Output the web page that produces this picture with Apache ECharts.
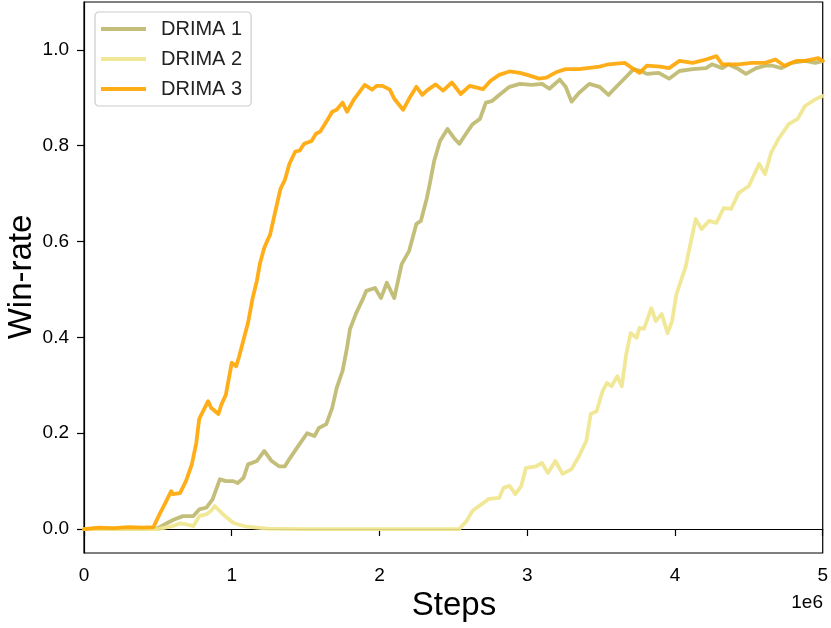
<!DOCTYPE html>
<html>
<head>
<meta charset="utf-8">
<script src="https://cdn.jsdelivr.net/npm/echarts@6/dist/echarts.min.js"></script>
<style>
html,body{margin:0;padding:0;background:#fff;}
#chart{width:831px;height:628px;}
</style>
</head>
<body>
<div id="chart"></div>
<script>
// x values in units of 1e6 steps, y = win-rate
const seriesNames = ['DRIMA 1', 'DRIMA 2', 'DRIMA 3'];
const xTicks = [0, 1, 2, 3, 4, 5];
const yTicks = [0, 0.2, 0.4, 0.6, 0.8, 1.0];

const drima1 = [[0,0],[0.3,0.001],[0.5,0.002],[0.56,0.012],[0.61,0.02],[0.67,0.027],[0.74,0.027],[0.78,0.041],[0.83,0.045],[0.87,0.062],[0.92,0.104],[0.96,0.1],[1.01,0.1],[1.04,0.096],[1.08,0.107],[1.11,0.135],[1.17,0.142],[1.22,0.163],[1.27,0.142],[1.32,0.131],[1.36,0.131],[1.39,0.146],[1.44,0.169],[1.51,0.2],[1.56,0.194],[1.59,0.211],[1.64,0.219],[1.68,0.253],[1.71,0.294],[1.75,0.33],[1.78,0.378],[1.80,0.417],[1.84,0.449],[1.89,0.482],[1.91,0.497],[1.97,0.503],[2.01,0.482],[2.05,0.514],[2.10,0.482],[2.15,0.553],[2.20,0.58],[2.25,0.637],[2.28,0.643],[2.32,0.69],[2.34,0.72],[2.37,0.768],[2.41,0.81],[2.46,0.835],[2.51,0.814],[2.54,0.804],[2.59,0.827],[2.63,0.845],[2.68,0.856],[2.72,0.89],[2.76,0.893],[2.81,0.906],[2.88,0.923],[2.95,0.929],[3.03,0.927],[3.10,0.929],[3.15,0.919],[3.22,0.938],[3.26,0.923],[3.30,0.892],[3.35,0.91],[3.42,0.929],[3.49,0.923],[3.55,0.906],[3.59,0.919],[3.67,0.944],[3.72,0.96],[3.77,0.956],[3.81,0.95],[3.89,0.952],[3.96,0.94],[4.03,0.956],[4.12,0.96],[4.21,0.962],[4.25,0.97],[4.32,0.962],[4.36,0.97],[4.43,0.96],[4.48,0.95],[4.55,0.962],[4.61,0.967],[4.66,0.967],[4.72,0.962],[4.79,0.973],[4.88,0.977],[4.95,0.973],[5.0,0.977]];

const drima2 = [[0,0],[0.5,0],[0.6,0.006],[0.65,0.012],[0.69,0.01],[0.74,0.006],[0.78,0.027],[0.83,0.031],[0.86,0.038],[0.885,0.048],[0.94,0.031],[1.01,0.013],[1.05,0.009],[1.10,0.005],[1.17,0.003],[1.24,0.001],[1.5,0],[2.54,0],[2.59,0.017],[2.63,0.038],[2.70,0.054],[2.74,0.063],[2.81,0.065],[2.84,0.086],[2.88,0.09],[2.92,0.073],[2.96,0.09],[2.99,0.127],[3.06,0.131],[3.10,0.138],[3.14,0.117],[3.19,0.142],[3.24,0.115],[3.30,0.125],[3.35,0.152],[3.40,0.184],[3.43,0.24],[3.47,0.246],[3.51,0.288],[3.54,0.305],[3.57,0.298],[3.61,0.319],[3.64,0.298],[3.67,0.365],[3.70,0.409],[3.74,0.399],[3.76,0.42],[3.79,0.418],[3.84,0.461],[3.87,0.434],[3.91,0.449],[3.95,0.409],[3.98,0.434],[4.01,0.49],[4.04,0.518],[4.07,0.545],[4.14,0.647],[4.18,0.626],[4.23,0.643],[4.28,0.639],[4.33,0.67],[4.38,0.668],[4.43,0.701],[4.50,0.716],[4.57,0.762],[4.61,0.741],[4.65,0.785],[4.70,0.814],[4.77,0.845],[4.83,0.856],[4.88,0.883],[4.95,0.897],[5.0,0.904]];

const drima3 = [[0,0],[0.1,0.003],[0.2,0.002],[0.3,0.004],[0.4,0.003],[0.47,0.004],[0.51,0.03],[0.55,0.054],[0.59,0.079],[0.6,0.073],[0.65,0.075],[0.69,0.10],[0.73,0.135],[0.76,0.18],[0.78,0.23],[0.84,0.267],[0.86,0.253],[0.91,0.24],[0.93,0.26],[0.96,0.28],[1.0,0.347],[1.03,0.34],[1.05,0.36],[1.09,0.407],[1.11,0.43],[1.14,0.48],[1.17,0.518],[1.19,0.553],[1.22,0.587],[1.26,0.615],[1.30,0.67],[1.33,0.71],[1.36,0.729],[1.39,0.762],[1.43,0.788],[1.46,0.79],[1.49,0.804],[1.54,0.81],[1.57,0.825],[1.60,0.83],[1.64,0.85],[1.68,0.871],[1.71,0.875],[1.75,0.89],[1.78,0.871],[1.83,0.898],[1.90,0.927],[1.95,0.917],[1.98,0.925],[2.02,0.925],[2.07,0.917],[2.10,0.898],[2.16,0.875],[2.20,0.898],[2.25,0.923],[2.29,0.906],[2.32,0.915],[2.38,0.928],[2.43,0.915],[2.49,0.932],[2.55,0.908],[2.61,0.925],[2.70,0.918],[2.75,0.935],[2.81,0.948],[2.88,0.955],[2.95,0.952],[3.0,0.948],[3.08,0.94],[3.13,0.942],[3.20,0.954],[3.26,0.96],[3.35,0.96],[3.49,0.965],[3.55,0.97],[3.66,0.973],[3.71,0.962],[3.76,0.952],[3.81,0.967],[3.90,0.965],[3.96,0.962],[4.03,0.977],[4.12,0.973],[4.21,0.98],[4.28,0.987],[4.32,0.97],[4.43,0.97],[4.52,0.973],[4.61,0.973],[4.68,0.98],[4.74,0.967],[4.82,0.977],[4.88,0.977],[4.97,0.983],[5.0,0.977]];

const colors = ['#BDB76B', '#F0E68C', '#FFA500'];
const allData = [drima1, drima2, drima3];
const FONT = 'Liberation Sans, Arial, sans-serif';

const chart = echarts.init(document.getElementById('chart'), null, {renderer: 'canvas'});
chart.setOption({
  animation: false,
  backgroundColor: '#fff',
  grid: {left: 84, right: 7, top: 2, bottom: 75, show: true, borderColor: '#000', borderWidth: 1.2, containLabel: false},
  xAxis: {
    type: 'value', min: 0, max: 5, interval: 1,
    axisLine: {show: true, lineStyle: {color: '#000', width: 1.2}},
    axisTick: {show: true, inside: false, length: 7, lineStyle: {color: '#000', width: 1.2}},
    axisLabel: {fontSize: 19, fontFamily: FONT, color: '#000', margin: 13, formatter: v => String(v)},
    splitLine: {show: false}
  },
  yAxis: {
    type: 'value', min: -0.05, max: 1.1,
    axisLine: {show: true, lineStyle: {color: '#000', width: 1.2}},
    axisTick: {show: true, inside: false, length: 7, lineStyle: {color: '#000', width: 1.2}, customValues: yTicks},
    axisLabel: {fontSize: 19, fontFamily: FONT, color: '#000', margin: 15, customValues: yTicks, formatter: v => v.toFixed(1)},
    splitLine: {show: false}
  },
  legend: {
    orient: 'vertical', left: 95, top: 12,
    data: seriesNames.map(n => ({name: n, icon: 'rect'})),
    itemWidth: 45, itemHeight: 4, itemGap: 10,
    padding: [7, 9, 7, 6],
    borderColor: '#cccccc', borderWidth: 1.2, borderRadius: 4,
    backgroundColor: 'rgba(255,255,255,0.8)',
    textStyle: {fontSize: 20, fontFamily: FONT, color: '#222', padding: [0, 0, 0, 10], lineHeight: 20}
  },
  series: seriesNames.map((n, i) => ({
    name: n, type: 'line', data: allData[i], showSymbol: false, symbol: 'none',
    lineStyle: {color: colors[i], width: 3.8, opacity: 0.9, join: 'round', cap: 'round'},
    itemStyle: {color: colors[i], opacity: 0.9},
    z: 2 + i
  })),
  graphic: [
    {type: 'text', x: 22, y: 277, rotation: Math.PI / 2,
      style: {text: 'Win-rate', fontSize: 33, fontFamily: FONT, fill: '#000', align: 'center', verticalAlign: 'middle'}},
    {type: 'text', x: 454, y: 606,
      style: {text: 'Steps', fontSize: 33, fontFamily: FONT, fill: '#000', align: 'center', verticalAlign: 'middle'}},
    {type: 'text', x: 823, y: 603,
      style: {text: '1e6', fontSize: 19, fontFamily: FONT, fill: '#000', align: 'right', verticalAlign: 'middle'}}
  ]
});
</script>
</body>
</html>
